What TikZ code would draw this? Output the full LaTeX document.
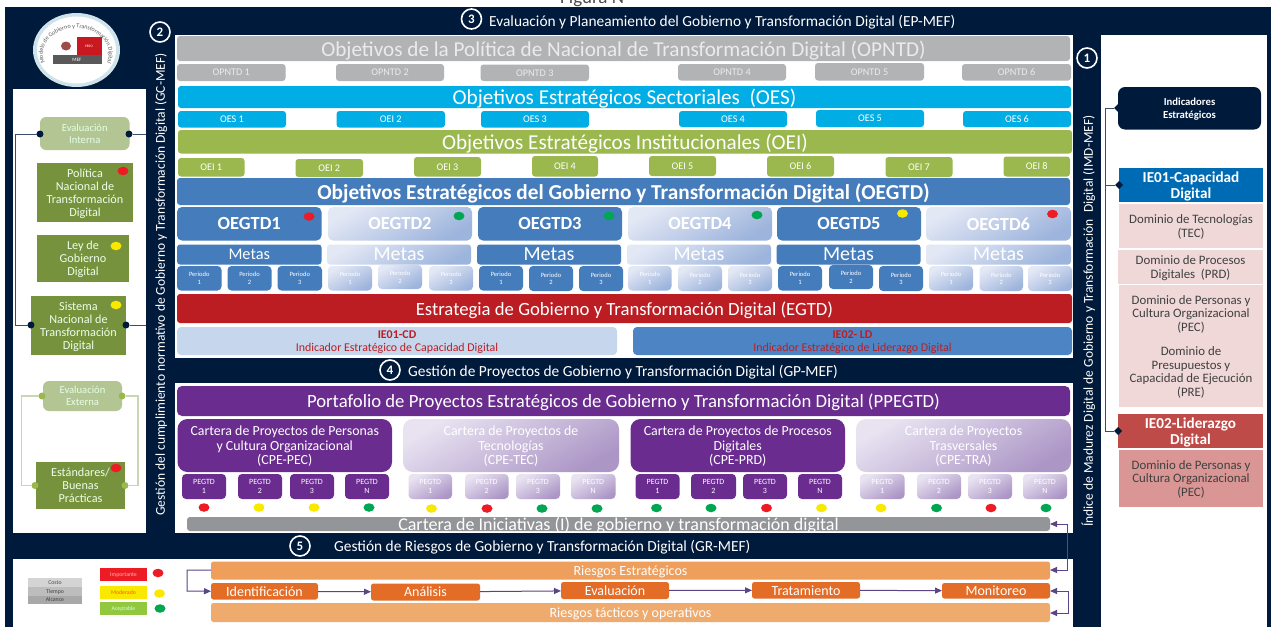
\documentclass[tikz,border=0pt]{standalone}
\usepackage{fontspec}
\setmainfont{Carlito}
\usetikzlibrary{shapes.geometric,arrows.meta,decorations.text}
\definecolor{navy}{HTML}{001A3B}
\definecolor{cgray}{HTML}{B2B3B5}
\definecolor{ccyan}{HTML}{00AEE5}
\definecolor{colive}{HTML}{9AB84D}
\definecolor{cblue}{HTML}{457CBB}
\definecolor{cred}{HTML}{BB1D23}
\definecolor{cpurple}{HTML}{6B2C8F}
\definecolor{cgreen}{HTML}{76923C}
\definecolor{lgreen}{HTML}{B2C593}
\definecolor{pinkb}{HTML}{F0D8D8}
\definecolor{dred}{HTML}{ED1C24}
\definecolor{dyel}{HTML}{F9E900}
\definecolor{dgrn}{HTML}{00A651}
\definecolor{arrowc}{HTML}{5B4587}
\definecolor{linkc}{HTML}{3A4E6B}
\definecolor{Ablue}{HTML}{E3E8F5}
\definecolor{Bblue}{HTML}{9DB4DC}
\definecolor{Apurp}{HTML}{E8E2F1}
\definecolor{Bpurp}{HTML}{AC96C6}
\definecolor{ielight}{HTML}{C5D6ED}
\definecolor{iemid}{HTML}{4D85C4}
\definecolor{cart}{HTML}{939598}
\definecolor{ieone}{HTML}{006BB5}
\definecolor{ietwo}{HTML}{BE4B48}
\definecolor{dompec}{HTML}{D99694}
\definecolor{rkone}{HTML}{EE9F5C}
\definecolor{rktwo}{HTML}{EFAA6E}
\definecolor{rkmid}{HTML}{E36C27}
\definecolor{legok}{HTML}{92C83E}
\definecolor{ringc}{HTML}{CFE4EA}
\newcommand\fz[2]{\fontsize{#1}{#2}\selectfont}
\newcommand\bx[7][]{\node[box,#1,minimum width={(#5-#3)*1pt},minimum height={(#6-#4)*1pt}] (#2) at ({(#3+#5)/2},{(#4+#6)/2}) {#7};}
\newcommand\dt[4]{\node[dotn,fill=#4] (#1) at (#2,#3) {};}
\newcommand\lnod[3]{\node[conn,fill=#3] (#1) at #2 {};}
\tikzset{
 box/.style={draw=none,inner sep=0pt,outer sep=0pt,align=center,text=white,rounded corners=3pt,fill=white,text depth=0pt},
 plain/.style={rounded corners=0pt},
 dotn/.style={ellipse,draw=none,inner sep=0pt,outer sep=0pt,minimum width=11pt,minimum height=8.5pt},
 conn/.style={circle,draw=none,inner sep=0pt,outer sep=0pt,minimum size=7pt},
 dia/.style={diamond,fill=navy,draw=none,inner sep=0pt,outer sep=0pt,minimum size=8pt},
 numc/.style={circle,draw=white,line width=1.6pt,fill=navy,text=white,inner sep=0pt,minimum size=20pt,font=\bfseries\fz{13}{14}},
 headt/.style={text=white,inner sep=0pt,font=\fz{15.4}{17}},
 rott/.style={text=white,inner sep=0pt,rotate=90,font=\fz{13.5}{15}},
 grayb/.style={fill=cgray,text=white!92!black},
 cyanb/.style={fill=ccyan},
 oliveb/.style={fill=colive},
 blueb/.style={fill=cblue},
 purpb/.style={fill=cpurple},
 fadeb/.style={top color=Ablue,bottom color=Bblue,shading angle=30,text=white},
 fadep/.style={top color=Apurp,bottom color=Bpurp,shading angle=30,text=white},
 big/.style={font=\fz{21.2}{23}},
 small/.style={font=\fz{10.2}{11}},
 per/.style={font=\fz{6.5}{7.5},rounded corners=4pt},
 pegt/.style={font=\fz{8}{8.5},rounded corners=4pt},
 goal/.style={font=\bfseries\fz{18.5}{20},rounded corners=5pt},
 meta/.style={font=\fz{20}{21}},
 carb/.style={font=\fz{13.9}{14.6},rounded corners=10pt},
 leftb/.style={fill=cgreen,plain,text=white!92!green,font=\fz{12.2}{12.9}},
 evalb/.style={fill=lgreen,rounded corners=6pt,text=white!90!green,font=\fz{10.6}{12}},
 lnk/.style={draw=linkc,line width=1pt},
 lnkp/.style={draw=lgreen!70!white,line width=1.3pt},
 arr/.style={draw=arrowc,line width=1pt,-{Triangle[length=7pt,width=6pt]}},
 domb/.style={fill=pinkb,plain,text=black!75,font=\fz{12.85}{13.5}},
 ieb/.style={plain,font=\bfseries\fz{15.2}{16}},
 riskb/.style={font=\fz{14}{15},rounded corners=2.5pt},
 ievb/.style={text=cred,font=\fz{11.9}{12.6},rounded corners=4pt},
 legb/.style={plain,font=\fz{5.8}{7}},
}
\begin{document}
\begin{tikzpicture}[x=1pt,y=-1pt]
\useasboundingbox (0,0) rectangle (1271,627);
\clip (0,0) rectangle (1271,627);
% panels
\fill[white] (0,0) rectangle (1271,627);
\node[anchor=base west,inner sep=0pt,text=black!70,font=\fz{19}{20}] (fig) at (560,3.5) {Figura N°};
\fill[navy] (5,7) rectangle (1271,627);
\fill[white] (13,89) rectangle (146,533);
\fill[white] (175,35) rectangle (1073,358);
\fill[white] (175,383) rectangle (1073,533);
\fill[white] (13,559) rectangle (1073,627);
\fill[white] (1101,35) rectangle (1267,627);
% logo
\fill[ringc] (76.5,50) ellipse [x radius=43.5pt,y radius=37pt];
\fill[white] (76.5,50) ellipse [x radius=39.5pt,y radius=33.5pt];
\path[decorate,decoration={text along path,text align=center,text={|\color{black!65}\fz{6}{7}|Modelo de Gobierno y Transformación Digital}}] (46,65) arc [start angle=205,end angle=-25,x radius=33pt,y radius=26pt];
\fill[dred!85!black] (77,37) rectangle (102,55);
\fill[black!65] (53,55) rectangle (102,64);
\fill[red!45!black!70] (66,46) ellipse [x radius=5pt,y radius=4.5pt];
\node[text=white,inner sep=0pt,font=\fz{3.5}{4}] (logop) at (89,46) {PERÚ};
\node[text=white,inner sep=0pt,font=\fz{5}{6}] (logom) at (77,59.5) {MEF};
% headings
\node[numc] (n3) at (471.5,19) {3};
\node[headt,anchor=west] (h3) at (489,22) {Evaluación y Planeamiento del Gobierno y Transformación Digital (EP-MEF)};
\node[numc] (n2) at (160,32) {2};
\node[numc] (n1) at (1087,58) {1};
\node[numc] (n4) at (390,370) {4};
\node[headt,anchor=west] (h4) at (408,372) {Gestión de Proyectos de Gobierno y Transformación Digital (GP-MEF)};
\node[numc] (n5) at (300,546) {5};
\node[headt,anchor=west] (h5) at (334,547) {Gestión de Riesgos de Gobierno y Transformación Digital (GR-MEF)};
\node[rott] (gc) at (161,284.5) {Gestión del cumplimiento normativo de Gobierno y Transformación Digital (GC-MEF)};
\node[rott] (imd) at (1088.5,321) {Índice de Madurez Digital de Gobierno y Transformación~ Digital (IMD-MEF)};
% OPNTD
\bx[grayb,big]{opntd}{177}{36}{1070}{61}{Objetivos de la Política de Nacional de Transformación Digital (OPNTD)}
\bx[grayb,small]{op1}{177}{64}{285.5}{81}{OPNTD 1}
\bx[grayb,small]{op2}{336}{64}{444}{81}{OPNTD 2}
\bx[grayb,small]{op3}{480.5}{64.5}{589}{81}{OPNTD 3}
\bx[grayb,small]{op4}{678}{64}{786}{80.5}{OPNTD 4}
\bx[grayb,small]{op5}{815}{63}{924}{80.5}{OPNTD 5}
\bx[grayb,small]{op6}{962}{64}{1071}{80.5}{OPNTD 6}
% OES
\bx[cyanb,big]{oes}{178}{86}{1071}{108}{Objetivos Estratégicos Sectoriales~ (OES)}
\bx[cyanb,small]{oes1}{178}{111}{286}{127.5}{OES 1}
\bx[cyanb,small]{oes2}{336.5}{111}{445}{127.5}{OEI 2}
\bx[cyanb,small]{oes3}{481}{111}{589}{127.5}{OES 3}
\bx[cyanb,small]{oes4}{679}{111}{787}{127}{OES 4}
\bx[cyanb,small]{oes5}{816}{110}{924}{127}{OES 5}
\bx[cyanb,small]{oes6}{963}{111}{1071}{127}{OES 6}
% OEI
\bx[oliveb,big]{oei}{178}{130}{1072}{153.5}{Objetivos Estratégicos Institucionales (OEI)}
\bx[oliveb,small]{oei1}{178}{158}{244.5}{176.5}{OEI 1}
\bx[oliveb,small]{oei2}{295.5}{159}{363}{177}{OEI 2}
\bx[oliveb,small]{oei3}{414}{157}{481}{176.5}{OEI 3}
\bx[oliveb,small]{oei4}{532}{156}{598}{176.5}{OEI 4}
\bx[oliveb,small]{oei5}{649}{156}{716}{176}{OEI 5}
\bx[oliveb,small]{oei6}{767}{156}{834}{176.5}{OEI 6}
\bx[oliveb,small]{oei7}{885.5}{157}{952.5}{177}{OEI 7}
\bx[oliveb,small]{oei8}{1003.5}{156.5}{1070}{176.5}{OEI 8}
% OEGTD
\bx[blueb,font=\bfseries\fz{21.3}{23}]{oegtd}{177}{178}{1070}{205}{Objetivos Estratégicos del Gobierno y Transformación Digital (OEGTD)}
\bx[blueb,goal]{g1}{177}{207}{321.5}{240.5}{OEGTD1}
\bx[fadeb,goal]{g2}{328}{207}{472}{240.5}{OEGTD2}
\bx[blueb,goal]{g3}{478}{207}{622}{240.5}{OEGTD3}
\bx[fadeb,goal]{g4}{628}{207}{772}{240.5}{OEGTD4}
\bx[blueb,goal]{g5}{777}{207}{921}{240.5}{OEGTD5}
\bx[fadeb,goal]{g6}{926}{207}{1071}{240.5}{OEGTD6}
\dt{dg1}{309}{216.5}{dred}
\dt{dg2}{459}{216}{dgrn}
\dt{dg3}{609}{216}{dgrn}
\dt{dg4}{757}{215}{dgrn}
\dt{dg5}{902.5}{213.5}{dyel}
\dt{dg6}{1052.5}{214}{dred}
\bx[blueb,font=\fz{16.3}{17}]{m1}{177}{244.5}{321.5}{264.5}{Metas}
\bx[fadeb,meta]{m2}{327}{244.5}{471}{264.5}{Metas}
\bx[blueb,meta]{m3}{477}{244.5}{621}{264.5}{Metas}
\bx[fadeb,meta]{m4}{627}{244.5}{771}{264.5}{Metas}
\bx[blueb,meta]{m5}{776.5}{244.5}{920.5}{264.5}{Metas}
\bx[fadeb,meta]{m6}{926}{244.5}{1071}{264.5}{Metas}
\bx[blueb,per]{p11}{177}{266}{221.5}{290.5}{Periodo\\1}
\bx[blueb,per]{p12}{227.5}{266}{271.5}{290.5}{Periodo\\2}
\bx[blueb,per]{p13}{277.5}{266}{322}{290.5}{Periodo\\3}
\bx[fadeb,per]{p21}{328}{266}{372}{290.5}{Periodo\\1}
\bx[fadeb,per]{p22}{378}{265}{422}{289}{Periodo\\2}
\bx[fadeb,per]{p23}{429}{266}{473}{290.5}{Periodo\\3}
\bx[blueb,per]{p31}{479}{266}{523}{290.5}{Periodo\\1}
\bx[blueb,per]{p32}{529}{266}{573}{291}{Periodo\\2}
\bx[blueb,per]{p33}{579}{266}{623}{291}{Periodo\\3}
\bx[fadeb,per]{p41}{628}{266}{671.5}{290.5}{Periodo\\1}
\bx[fadeb,per]{p42}{678}{266}{722}{291}{Periodo\\2}
\bx[fadeb,per]{p43}{728}{266}{772}{291}{Periodo\\3}
\bx[blueb,per]{p51}{778}{266}{822}{290.5}{Periodo\\1}
\bx[blueb,per]{p52}{829}{265}{873}{289}{Periodo\\2}
\bx[blueb,per]{p53}{879}{266}{923}{291}{Periodo\\3}
\bx[fadeb,per]{p61}{929}{266}{973}{290.5}{Periodo\\1}
\bx[fadeb,per]{p62}{979.5}{266}{1023}{291}{Periodo\\2}
\bx[fadeb,per]{p63}{1028}{266}{1072}{291}{Periodo\\3}
\bx[fill=cred,font=\fz{18.7}{20}]{egtd}{177}{294}{1072}{323}{Estrategia de Gobierno y Transformación Digital (EGTD)}
\bx[ievb,fill=ielight]{ie1}{177}{327}{617}{355}{\textbf{IE01-CD}\\Indicador Estratégico de Capacidad Digital}
\bx[ievb,fill=iemid]{ie2}{633}{327}{1072}{355}{\textbf{IE02- LD}\\Indicador Estratégico de Liderazgo Digital}
% portfolio
\bx[purpb,font=\fz{18.7}{20},rounded corners=5pt]{ppe}{177}{386}{1070}{416}{Portafolio de Proyectos Estratégicos de Gobierno y Transformación Digital (PPEGTD)}
\bx[purpb,carb]{c1}{177.5}{419}{392}{472}{Cartera de Proyectos de Personas\\y Cultura Organizacional\\(CPE-PEC)}
\bx[fadep,carb]{c2}{403}{419}{619}{472}{Cartera de Proyectos de\\Tecnologías\\(CPE-TEC)}
\bx[purpb,carb]{c3}{630.5}{419}{845}{472}{Cartera de Proyectos de Procesos\\Digitales\\(CPE-PRD)}
\bx[fadep,carb]{c4}{856}{419}{1071}{472}{Cartera de Proyectos\\Trasversales\\(CPE-TRA)}
\bx[purpb,pegt]{q11}{182}{474}{226}{499}{PEGTD\\1}
\bx[purpb,pegt]{q12}{238}{474}{282}{499}{PEGTD\\2}
\bx[purpb,pegt]{q13}{290}{474}{334}{499}{PEGTD\\3}
\bx[purpb,pegt]{q14}{345}{474}{389}{499}{PEGTD\\N}
\bx[fadep,pegt]{q21}{408.5}{474}{452}{499}{PEGTD\\1}
\bx[fadep,pegt]{q22}{465}{474}{508.5}{499}{PEGTD\\2}
\bx[fadep,pegt]{q23}{516}{474}{560}{499}{PEGTD\\3}
\bx[fadep,pegt]{q24}{571}{474}{615.5}{499}{PEGTD\\N}
\bx[purpb,pegt]{q31}{635.5}{474}{679.5}{499}{PEGTD\\1}
\bx[purpb,pegt]{q32}{691}{474}{736}{499}{PEGTD\\2}
\bx[purpb,pegt]{q33}{743}{474}{787}{499}{PEGTD\\3}
\bx[purpb,pegt]{q34}{798}{474}{842}{499}{PEGTD\\N}
\bx[fadep,pegt]{q41}{860}{474}{904.5}{499}{PEGTD\\1}
\bx[fadep,pegt]{q42}{917}{474}{961}{499}{PEGTD\\2}
\bx[fadep,pegt]{q43}{968}{474}{1012}{499}{PEGTD\\3}
\bx[fadep,pegt]{q44}{1023}{474}{1067}{499}{PEGTD\\N}
\dt{d11}{204}{507.5}{dred}
\dt{d12}{259}{507.5}{dyel}
\dt{d13}{314}{507.5}{dyel}
\dt{d14}{369}{507.5}{dgrn}
\dt{d21}{431.5}{508.5}{dyel}
\dt{d22}{487}{508.5}{dred}
\dt{d23}{542}{508.5}{dgrn}
\dt{d24}{597}{508.5}{dgrn}
\dt{d31}{656.5}{508}{dgrn}
\dt{d32}{711}{508}{dgrn}
\dt{d33}{766.5}{508}{dred}
\dt{d34}{821.5}{508}{dyel}
\dt{d41}{881}{508}{dyel}
\dt{d42}{936.5}{508}{dgrn}
\dt{d43}{991}{508}{dred}
\dt{d44}{1046}{508}{dgrn}
\bx[fill=cart,font=\fz{18}{18}]{ini}{187}{517}{1050}{531}{Cartera de Iniciativas (I) de gobierno y transformación digital}
% left panel
\bx[evalb]{eint}{40}{117}{129.5}{150}{Evaluación\\Interna}
\bx[leftb]{pol}{37}{163}{133}{222}{Política\\Nacional de\\Transformación\\Digital}
\bx[leftb]{ley}{37}{235}{129}{282}{Ley de\\Gobierno\\Digital}
\bx[leftb]{sis}{31}{296}{126}{355}{Sistema\\Nacional de\\Transformación\\Digital}
\bx[evalb]{eext}{43}{381}{122}{411}{Evaluación\\Externa}
\bx[leftb]{est}{36}{462}{125}{509}{Estándares/\\Buenas\\Prácticas}
\dt{dpol}{123}{171}{dred}
\dt{dley}{116}{246}{dyel}
\dt{dsis}{116}{305}{dyel}
\dt{dest}{116}{468}{dred}
\lnod{a1}{(40,134)}{navy}
\lnod{a2}{(129,134)}{navy}
\lnod{a3}{(31,325)}{navy}
\lnod{a4}{(126,325)}{navy}
\lnod{b1}{(42,396)}{colive}
\lnod{b2}{(122,396)}{colive}
\lnod{b3}{(35,485.5)}{colive}
\lnod{b4}{(125,485.5)}{colive}
\coordinate (ca) at (15.5,134);
\coordinate (cb) at (146,134);
\coordinate (cc) at (146,325);
\coordinate (cd) at (21.5,396);
\coordinate (ce) at (138,396);
\draw[lnk] (a1) -- (ca) |- (a3);
\draw[lnk] (a2) -- (cb);
\draw[lnk] (a4) -- (cc);
\draw[lnkp] (b1) -- (cd) |- (b3);
\draw[lnkp] (b2) -- (ce) |- (b4);
% right panel
\bx[fill=navy,rounded corners=7pt,font=\bfseries\fz{10.7}{13}]{ind}{1118}{87}{1261}{129.5}{Indicadores\\Estratégicos}
\bx[ieb,fill=ieone]{ie01}{1119}{168}{1263}{202}{IE01-Capacidad\\Digital}
\bx[domb]{tec}{1119}{204}{1263}{248}{Dominio de Tecnologías\\(TEC)}
\bx[domb]{prd}{1118}{250}{1263}{284}{Dominio de Procesos\\Digitales~ (PRD)}
\bx[domb]{pec}{1119}{285}{1263}{407}{Dominio de Personas y\\Cultura Organizacional\\(PEC)\\[11pt]Dominio de\\Presupuestos y\\Capacidad de Ejecución\\(PRE)}
\bx[ieb,fill=ietwo]{ie02}{1118}{414}{1263}{448}{IE02-Liderazgo\\Digital}
\bx[domb,fill=dompec]{pec2}{1119}{450}{1263}{507}{Dominio de Personas y\\Cultura Organizacional\\(PEC)}
\node[dia] (di) at (1118,108) {};
\node[dia] (d1) at (1119,185) {};
\node[dia] (d2) at (1118,431) {};
\coordinate (tk) at (1105.5,108);
\coordinate (tk1) at (1105.5,185);
\draw[lnk] (di) -- (tk) |- (d2);
\draw[lnk] (d1) -- (tk1);
% risk
\bx[riskb,fill=rkone]{rest}{211}{561.5}{1050}{579.5}{Riesgos Estratégicos}
\bx[riskb,fill=rktwo]{rtac}{211}{603}{1050}{622}{Riesgos tácticos y operativos}
\bx[riskb,fill=rkmid]{rid}{211}{583}{318}{599.5}{Identificación}
\bx[riskb,fill=rkmid]{ran}{371}{583.5}{480}{600.5}{Análisis}
\bx[riskb,fill=rkmid]{rev}{561}{582}{669}{599}{Evaluación}
\bx[riskb,fill=rkmid]{rtr}{752}{582}{860}{598.5}{Tratamiento}
\bx[riskb,fill=rkmid]{rmo}{942}{583}{1050}{598.5}{Monitoreo}
\coordinate (r1) at (187,570);
\coordinate (r2) at (187,591);
\coordinate (r3) at (1067.5,524);
\coordinate (r4) at (1067.5,570);
\coordinate (r5) at (1068.5,591);
\coordinate (r6) at (1068.5,613);
\draw[arr] (rest.west |- r1) -- (r1) -- (r2) -- (rid.west);
\draw[arr] (rid) -- (ran);
\draw[arr] (ran) -- (rev);
\draw[arr] (rev) -- (rtr);
\draw[arr] (rtr) -- (rmo);
\draw[arr] (r4) -- (rest.east |- r4);
\draw[arr] (r4) -- (r3) -- (ini.east);
\draw[arr] (r5) -- (rmo.east |- r5);
\draw[arr] (r5) -- (r6) -- (rtac.east |- r6);
% legend
\bx[legb,fill=black!17,text=black!70]{l1}{28}{578}{82}{587}{Costo}
\bx[legb,fill=black!26,text=black!75]{l2}{28}{587}{82}{595.5}{Tiempo}
\bx[legb,fill=black!34,text=black!75]{l3}{28}{595.5}{82}{604}{Alcance}
\bx[legb,fill=dred,text=red!30!white]{li}{100}{568}{147}{581}{Importante}
\bx[legb,fill=dyel,text=orange!70!red]{lm}{100}{586}{147}{599}{Moderado}
\bx[legb,fill=legok,text=white!85!green]{la}{100}{602}{147}{615}{Aceptable}
\dt{dli}{158}{573}{dred}
\dt{dlm}{159.5}{593.5}{dyel}
\dt{dla}{160}{608.5}{dgrn}
\end{tikzpicture}
\end{document}
